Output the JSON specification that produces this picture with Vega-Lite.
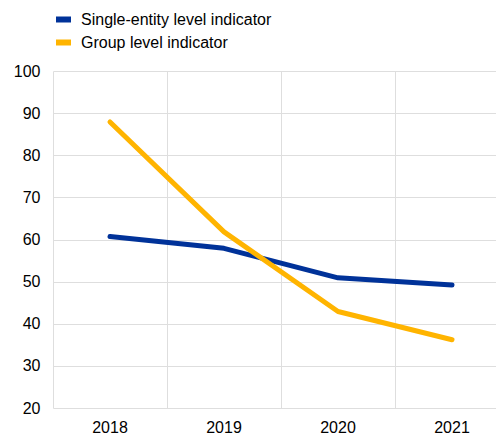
{
  "$schema": "https://vega.github.io/schema/vega-lite/v6.json",
  "width": 443,
  "height": 337,
  "autosize": {"type": "none"},
  "padding": {"left": 53, "top": 71, "right": 0, "bottom": 27},
  "background": "white",
  "config": {
    "view": {"stroke": null},
    "font": "Liberation Sans",
    "axis": {"labelFont": "Liberation Sans", "labelFontSize": 16, "labelColor": "#000", "gridColor": "#dedede", "gridWidth": 1, "domain": false, "ticks": false}
  },
  "data": {
    "values": [
      {"year": "2018", "series": "Single-entity level indicator", "value": 60.7},
      {"year": "2019", "series": "Single-entity level indicator", "value": 57.9},
      {"year": "2020", "series": "Single-entity level indicator", "value": 50.9},
      {"year": "2021", "series": "Single-entity level indicator", "value": 49.2},
      {"year": "2018", "series": "Group level indicator", "value": 87.9},
      {"year": "2019", "series": "Group level indicator", "value": 61.8},
      {"year": "2020", "series": "Group level indicator", "value": 42.9},
      {"year": "2021", "series": "Group level indicator", "value": 36.2}
    ]
  },
  "mark": {"type": "line", "strokeWidth": 5, "strokeCap": "round", "strokeJoin": "round"},
  "encoding": {
    "x": {
      "field": "year", "type": "ordinal",
      "scale": {"type": "band", "range": [0, 456], "paddingInner": 0, "paddingOuter": 0},
      "axis": {"title": null, "labelAngle": 0, "grid": true, "bandPosition": 0, "labelPadding": 11}
    },
    "y": {
      "field": "value", "type": "quantitative",
      "scale": {"domain": [20, 100], "nice": false, "zero": false},
      "axis": {"title": null, "values": [20, 30, 40, 50, 60, 70, 80, 90, 100], "grid": true, "labelPadding": 13}
    },
    "color": {
      "field": "series", "type": "nominal",
      "scale": {"domain": ["Single-entity level indicator", "Group level indicator"], "range": ["#003299", "#ffb400"]},
      "legend": {
        "title": null, "orient": "none", "legendX": 0, "legendY": -62,
        "symbolType": "stroke", "symbolStrokeWidth": 6, "symbolSize": 225,
        "labelFont": "Liberation Sans", "labelFontSize": 16, "labelColor": "#000", "labelLimit": 400,
        "rowPadding": -3, "labelOffset": 7
      }
    }
  }
}
